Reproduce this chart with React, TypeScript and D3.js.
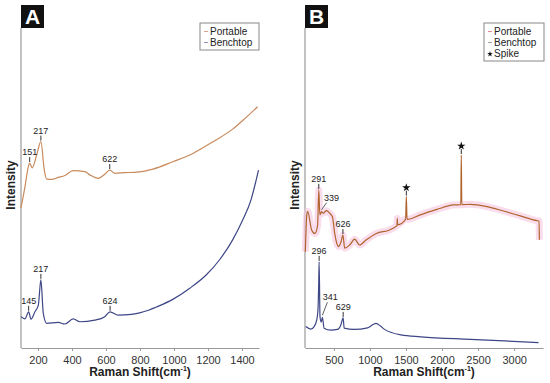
import React, { Component } from "react";
import * as d3 from "d3";

// panel A: raman shift (cm-1) and intensity (arbitrary units, 0-100)
const portableAShift = [100, 123, 143, 151, 166, 192, 217, 237, 251, 280, 319, 358, 407, 475, 505, 553, 593, 622, 651, 710, 768, 827, 876, 993, 1111, 1228, 1345, 1423, 1492];
const portableAIntensity = [43.8, 50.3, 56.6, 57.8, 56.3, 60.3, 64.5, 55.6, 52.8, 52.7, 53.3, 53.9, 55.4, 55.1, 54.1, 53.0, 54.3, 55.6, 54.6, 54.8, 54.9, 55.3, 55.9, 58.2, 60.8, 64.4, 68.4, 72.0, 75.4];
const benchtopAShift = [100, 123, 145, 159, 182, 202, 217, 231, 251, 319, 358, 407, 446, 534, 593, 624, 671, 749, 798, 850, 896, 993, 1091, 1189, 1267, 1345, 1404, 1453, 1497];
const benchtopAIntensity = [9.8, 9.1, 11.3, 9.0, 11.3, 13.4, 21.3, 10.9, 7.7, 8.0, 7.5, 9.1, 8.2, 8.7, 9.8, 11.3, 10.3, 10.5, 11.0, 11.8, 12.8, 15.2, 18.6, 22.8, 27.5, 33.8, 40.0, 46.3, 55.6];

// panel B
const portableBShift = [105, 125, 137, 192, 238, 275, 291, 306, 330, 351, 397, 443, 480, 512, 535, 567, 600, 626, 650, 720, 789, 858, 950, 1089, 1274, 1366, 1375, 1380, 1385, 1495, 1505, 1515, 1698, 1929, 2160, 2260, 2267, 2274, 2392, 2623, 2854, 3085, 3317, 3345, 3350];
const portableBIntensity = [30.1, 41.6, 42.7, 36.9, 35.8, 38.4, 49.4, 41.6, 42.6, 42.1, 42.9, 42.1, 41.0, 35.8, 33.2, 31.7, 33.2, 35.3, 31.2, 32.2, 34.0, 32.2, 33.8, 35.8, 36.9, 38.1, 38.3, 40.5, 38.5, 40.2, 47.3, 40.2, 41.6, 43.3, 44.7, 44.8, 60.3, 44.8, 44.9, 44.2, 42.8, 41.3, 39.8, 39.7, 33.8];
const benchtopBShift = [110, 180, 226, 263, 280, 290, 296, 308, 325, 341, 365, 458, 550, 597, 629, 643, 782, 967, 1050, 1083, 1150, 1198, 1429, 1707, 2392, 3338];
const benchtopBIntensity = [6.7, 5.9, 6.7, 8.8, 12.0, 20.0, 26.9, 9.8, 8.1, 9.6, 6.2, 5.6, 5.8, 7.2, 9.4, 6.2, 5.8, 6.3, 7.4, 7.7, 6.8, 5.9, 4.1, 3.5, 2.7, 1.7];

const ticksA = [200, 400, 600, 800, 1000, 1200, 1400];
const ticksB = [500, 1000, 1500, 2000, 2500, 3000];

// peak labels: [shift, intensity, text, leader style]
const peaksA = [
  [151, 57.8, "151", "v"],
  [217, 64.5, "217", "v"],
  [622, 55.6, "622", "v"],
  [145, 11.3, "145", "v"],
  [217, 21.3, "217", "v"],
  [624, 11.3, "624", "v"],
];
const peaksB = [
  [291, 49.4, "291", "v"],
  [330, 42.6, "339", "d"],
  [626, 35.3, "626", "v"],
  [296, 26.9, "296", "v"],
  [341, 9.6, "341", "dl"],
  [629, 9.4, "629", "v"],
];
const spikesB = [
  [1505, 47.3],
  [2267, 60.3],
];

const FONT = "'Liberation Sans', Arial, sans-serif";

class App extends Component {
  constructor(props) {
    super(props);
    this.body = React.createRef();
    this.width = 550;
    this.height = 383;
    this.yTop = 28;
    this.yBottom = 348;
  }

  renderPanel(svg, opts) {
    var x = d3.scaleLinear().domain(opts.domain).range(opts.range);
    var y = d3.scaleLinear().domain([0, 100]).range([this.yBottom, this.yTop]);
    var g = svg.append("g");

    // axes
    g.append("line")
      .attr("x1", opts.range[0])
      .attr("x2", opts.range[0])
      .attr("y1", this.yTop)
      .attr("y2", this.yBottom)
      .attr("stroke", "#9a9a9a")
      .attr("stroke-width", 1.2);

    var xAxis = d3.axisBottom(x).tickValues(opts.ticks).tickSizeInner(3).tickSizeOuter(0).tickFormat(d3.format("d"));
    var ax = g.append("g")
      .attr("transform", "translate(0," + this.yBottom + ")")
      .call(xAxis);
    ax.select(".domain").attr("stroke", "#9a9a9a").attr("stroke-width", 1.2);
    ax.selectAll(".tick line").attr("stroke", "#9a9a9a");
    ax.selectAll(".tick text")
      .attr("fill", "#333")
      .attr("font-size", 11)
      .attr("font-family", FONT)
      .attr("dy", "0.9em");

    var title = g.append("text")
      .attr("x", (opts.range[0] + opts.range[1]) / 2)
      .attr("y", 376)
      .attr("text-anchor", "middle")
      .attr("font-family", FONT)
      .attr("font-weight", "bold")
      .attr("font-size", 12)
      .attr("fill", "#222");
    title.append("tspan").text("Raman Shift(cm");
    title.append("tspan").attr("font-size", 7).attr("dy", -5).text("-1");
    title.append("tspan").attr("dy", 5).text(")");

    g.append("text")
      .attr("transform", "translate(" + (opts.range[0] - 6) + ",185) rotate(-90)")
      .attr("text-anchor", "middle")
      .attr("font-family", FONT)
      .attr("font-weight", "bold")
      .attr("font-size", 12)
      .attr("fill", "#222")
      .text("Intensity");

    // panel letter
    g.append("rect")
      .attr("x", opts.range[0])
      .attr("y", 5)
      .attr("width", 23)
      .attr("height", 23)
      .attr("fill", "#111");
    g.append("text")
      .attr("x", opts.range[0] + 11.5)
      .attr("y", 24)
      .attr("text-anchor", "middle")
      .attr("font-family", FONT)
      .attr("font-weight", "bold")
      .attr("font-size", 21)
      .attr("fill", "#fff")
      .text(opts.letter);

    var line = d3.line()
      .x(d => x(d[0]))
      .y(d => y(d[1]))
      .curve(d3.curveMonotoneX);

    var spikeShifts = (opts.spikes || []).map(p => p[0]);

    opts.series.forEach(s => {
      var pts = d3.zip(s.shift, s.intensity);
      if (s.halo) {
        // halo skips the cosmic-ray spikes
        var haloPts = pts.filter(p => spikeShifts.indexOf(p[0]) < 0);
        g.append("path")
          .attr("d", line(haloPts))
          .attr("fill", "none")
          .attr("stroke", s.halo)
          .attr("stroke-width", 7)
          .attr("stroke-linejoin", "round")
          .attr("opacity", 0.6);
      }
      g.append("path")
        .attr("d", line(pts))
        .attr("fill", "none")
        .attr("stroke", s.color)
        .attr("stroke-width", 1.2);
    });

    opts.peaks.forEach(p => {
      var px = x(p[0]);
      var py = y(p[1]);
      if (p[3] === "v") {
        g.append("line")
          .attr("x1", px).attr("x2", px)
          .attr("y1", py - 1).attr("y2", py - 6)
          .attr("stroke", "#333").attr("stroke-width", 1);
        g.append("text")
          .attr("x", px)
          .attr("y", py - 8)
          .attr("text-anchor", "middle")
          .attr("font-family", FONT)
          .attr("font-size", 9)
          .attr("fill", "#222")
          .text(p[2]);
      } else {
        var long = p[3] === "dl";
        g.append("line")
          .attr("x1", px).attr("x2", px + 5)
          .attr("y1", py - 2).attr("y2", py - (long ? 15 : 9))
          .attr("stroke", "#333").attr("stroke-width", 0.8);
        g.append("text")
          .attr("x", px + (long ? 8 : 10))
          .attr("y", py - (long ? 17 : 11))
          .attr("text-anchor", "middle")
          .attr("font-family", FONT)
          .attr("font-size", 9)
          .attr("fill", "#222")
          .text(p[2]);
      }
    });

    (opts.spikes || []).forEach(p => {
      var px = x(p[0]);
      var py = y(p[1]);
      g.append("line")
        .attr("x1", px).attr("x2", px)
        .attr("y1", py - 1).attr("y2", py - 6)
        .attr("stroke", "#333").attr("stroke-width", 1);
      g.append("path")
        .attr("d", d3.symbol(d3.symbolStar, 22)())
        .attr("transform", "translate(" + px + "," + (py - 9) + ")")
        .attr("fill", "#111");
    });

    // legend
    var lg = opts.legend;
    g.append("rect")
      .attr("x", lg.x)
      .attr("y", lg.y)
      .attr("width", lg.w)
      .attr("height", lg.items.length * 11 + 5)
      .attr("fill", "#fff")
      .attr("stroke", "#888")
      .attr("stroke-width", 1);
    lg.items.forEach((it, i) => {
      var ty = lg.y + 12 + i * 11;
      if (it.star) {
        g.append("path")
          .attr("d", d3.symbol(d3.symbolStar, 10)())
          .attr("transform", "translate(" + (lg.x + 6) + "," + (ty - 3) + ")")
          .attr("fill", "#111");
      } else {
        g.append("line")
          .attr("x1", lg.x + 4).attr("x2", lg.x + 8)
          .attr("y1", ty - 3.5).attr("y2", ty - 3.5)
          .attr("stroke", it.color).attr("stroke-width", 1);
      }
      g.append("text")
        .attr("x", lg.x + 10)
        .attr("y", ty)
        .attr("font-family", FONT)
        .attr("font-size", 10)
        .attr("fill", "#222")
        .text(it.label);
    });
  }

  componentDidMount() {
    document.body.style.margin = "0";
    var svg = d3
      .select(this.body.current)
      .append("svg")
      .attr("width", this.width)
      .attr("height", this.height)
      .style("display", "block")
      .style("background", "#fff");

    this.renderPanel(svg, {
      letter: "A",
      domain: [100, 1500],
      range: [21, 259],
      ticks: ticksA,
      series: [
        { shift: portableAShift, intensity: portableAIntensity, color: "#c98a5c" },
        { shift: benchtopAShift, intensity: benchtopAIntensity, color: "#3d4686" },
      ],
      peaks: peaksA,
      legend: {
        x: 200, y: 23, w: 59,
        items: [
          { label: "Portable", color: "#d9a08a" },
          { label: "Benchtop", color: "#8c92b8" },
        ],
      },
    });

    this.renderPanel(svg, {
      letter: "B",
      domain: [100, 3400],
      range: [305, 543],
      ticks: ticksB,
      series: [
        { shift: portableBShift, intensity: portableBIntensity, color: "#b0652f", halo: "#f7c6df" },
        { shift: benchtopBShift, intensity: benchtopBIntensity, color: "#3d4686" },
      ],
      peaks: peaksB,
      spikes: spikesB,
      legend: {
        x: 484, y: 23, w: 60,
        items: [
          { label: "Portable", color: "#e08a9a" },
          { label: "Benchtop", color: "#a0a0a0" },
          { label: "Spike", star: true },
        ],
      },
    });
  }

  render() {
    return <div ref={this.body} />;
  }
}

export default App;
